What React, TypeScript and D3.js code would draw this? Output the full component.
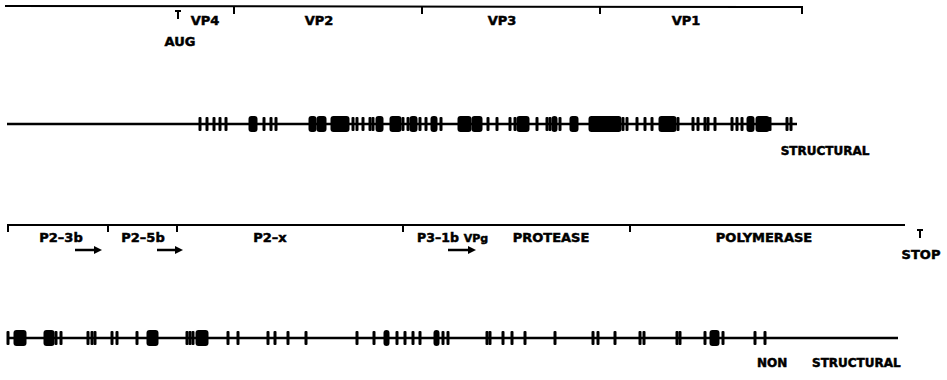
import { useEffect, useRef } from 'react';
import * as d3 from 'd3';

// map positions (same units on both rows)
const TOP_BOUNDS = [234, 422, 600];
const TOP_LABELS = [
  { text: 'VP4', pos: 205 },
  { text: 'VP2', pos: 319 },
  { text: 'VP3', pos: 502 },
  { text: 'VP1', pos: 686 },
];
const AUG_POS = 178;

const STRUCT_TICKS = [
  200, 207, 214, 220, 226, 264, 271, 276, 353, 357, 363, 370, 373, 403, 408, 420, 426, 441,
  488, 497, 510, 515, 537, 547, 550, 560, 623, 627, 637, 645, 652, 678, 693, 698, 705, 708,
  715, 732, 737, 742, 770, 787, 791,
];
const STRUCT_BLOBS = [
  [250, 256], [310, 315], [318, 325], [332, 348], [377, 382], [391, 400], [411, 416],
  [432, 436], [459, 470], [473, 481], [518, 528], [553, 556], [571, 577], [590, 620],
  [660, 675], [748, 753], [757, 768],
];

const BOT_BOUNDS = [108, 177, 403, 630];
const BOT_LABELS = [
  { text: 'P2–3b', pos: 61, size: 13 },
  { text: 'P2–5b', pos: 143, size: 13 },
  { text: 'P2–x', pos: 270, size: 13 },
  { text: 'P3–1b', pos: 438, size: 12.5 },
  { text: 'VPg', pos: 476, size: 11 },
  { text: 'PROTEASE', pos: 551, size: 13 },
  { text: 'POLYMERASE', pos: 764, size: 13 },
];
const ARROWS = [[75, 102], [157, 183], [448, 476]];
const STOP_POS = 920;

const NONSTRUCT_TICKS = [
  8, 56, 61, 88, 92, 95, 112, 117, 137, 187, 190, 193, 228, 238, 268, 275, 288, 306, 357, 374,
  397, 405, 413, 420, 443, 448, 487, 490, 503, 512, 525, 555, 593, 598, 615, 640, 644, 677,
  680, 705, 723, 755, 765,
];
const NONSTRUCT_BLOBS = [
  [15, 25], [45, 53], [148, 157], [197, 207], [385, 388], [435, 438], [711, 718],
];

const W = 947;
const H = 380;
const FONT = '"DejaVu Sans", sans-serif';

export default function App() {
  const ref = useRef<SVGSVGElement>(null);

  useEffect(() => {
    const svg = d3.select(ref.current);
    svg.selectAll('*').remove();
    const x = d3.scaleLinear().domain([0, W]).range([0, W]);

    const bold = (t: any, size: number) =>
      t.attr('font-family', FONT).attr('font-weight', 'bold').attr('font-size', size)
        .attr('stroke', '#000').attr('stroke-width', 0.5);

    const label = (t: string, px: number, y: number, size = 13) =>
      bold(svg.append('text').attr('x', x(px)).attr('y', y).attr('text-anchor', 'middle'), size)
        .text(t);

    const tee = (px: number, y0: number, y1: number) => {
      svg.append('line').attr('x1', x(px) - 3).attr('x2', x(px) + 3).attr('y1', y0).attr('y2', y0)
        .attr('stroke', '#000').attr('stroke-width', 2);
      svg.append('line').attr('x1', x(px)).attr('x2', x(px)).attr('y1', y0).attr('y2', y1)
        .attr('stroke', '#000').attr('stroke-width', 2);
    };

    // top bracket (structural)
    const topY = 6;
    svg.append('path')
      .attr('d', `M${x(5)},${topY}L${x(802)},${topY + 1}L${x(802)},${topY + 8}`)
      .attr('fill', 'none').attr('stroke', '#000').attr('stroke-width', 2);
    TOP_BOUNDS.forEach(b => svg.append('line').attr('x1', x(b)).attr('x2', x(b))
      .attr('y1', topY).attr('y2', topY + 8).attr('stroke', '#000').attr('stroke-width', 2));
    TOP_LABELS.forEach(l => label(l.text, l.pos, 25));
    tee(AUG_POS, 11, 19);
    label('AUG', 180, 46);

    // genome row helper
    const row = (y: number, x0: number, x1: number, ticks: number[], blobs: number[][]) => {
      const g = svg.append('g');
      g.append('line').attr('x1', x(x0)).attr('x2', x(x1)).attr('y1', y).attr('y2', y)
        .attr('stroke', '#000').attr('stroke-width', 2.4);
      g.selectAll('rect.t').data(ticks).join('rect')
        .attr('x', d => x(d) - 1.5).attr('width', 3)
        .attr('y', y - 7).attr('height', 14).attr('rx', 1).attr('fill', '#000');
      g.selectAll('rect.b').data(blobs).enter().append('rect')
        .attr('x', d => x(d[0]) - 1.5).attr('width', d => x(d[1]) - x(d[0]) + 3)
        .attr('y', y - 8).attr('height', 16).attr('rx', 3).attr('fill', '#000');
    };

    row(124, 7, 797, STRUCT_TICKS, STRUCT_BLOBS);
    label('STRUCTURAL', 825, 155, 12);

    // bottom bracket (non structural)
    const botY = 225;
    svg.append('path')
      .attr('d', `M${x(8)},${botY + 7}L${x(8)},${botY}L${x(905)},${botY}`)
      .attr('fill', 'none').attr('stroke', '#000').attr('stroke-width', 2);
    BOT_BOUNDS.forEach(b => svg.append('line').attr('x1', x(b)).attr('x2', x(b))
      .attr('y1', botY).attr('y2', botY + 7).attr('stroke', '#000').attr('stroke-width', 2));
    BOT_LABELS.forEach(l => label(l.text, l.pos, 242, l.size));
    ARROWS.forEach(([a, b]) => {
      svg.append('line').attr('x1', x(a)).attr('x2', x(b) - 5).attr('y1', 250).attr('y2', 250)
        .attr('stroke', '#000').attr('stroke-width', 2.5);
      svg.append('path')
        .attr('d', `M${x(b)},250L${x(b) - 8},246L${x(b) - 8},254Z`).attr('fill', '#000');
    });
    tee(STOP_POS, 230, 238);
    label('STOP', 921, 259);

    row(338, 7, 898, NONSTRUCT_TICKS, NONSTRUCT_BLOBS);
    const ns = bold(svg.append('text').attr('x', x(757)).attr('y', 367), 12);
    ns.append('tspan').text('NON');
    ns.append('tspan').attr('x', x(812)).text('STRUCTURAL');
  }, []);

  return (
    <div style={{ position: 'fixed', top: 0, left: 0, width: W, height: H, background: '#fff' }}>
      <svg ref={ref} width={W} height={H} />
    </div>
  );
}
